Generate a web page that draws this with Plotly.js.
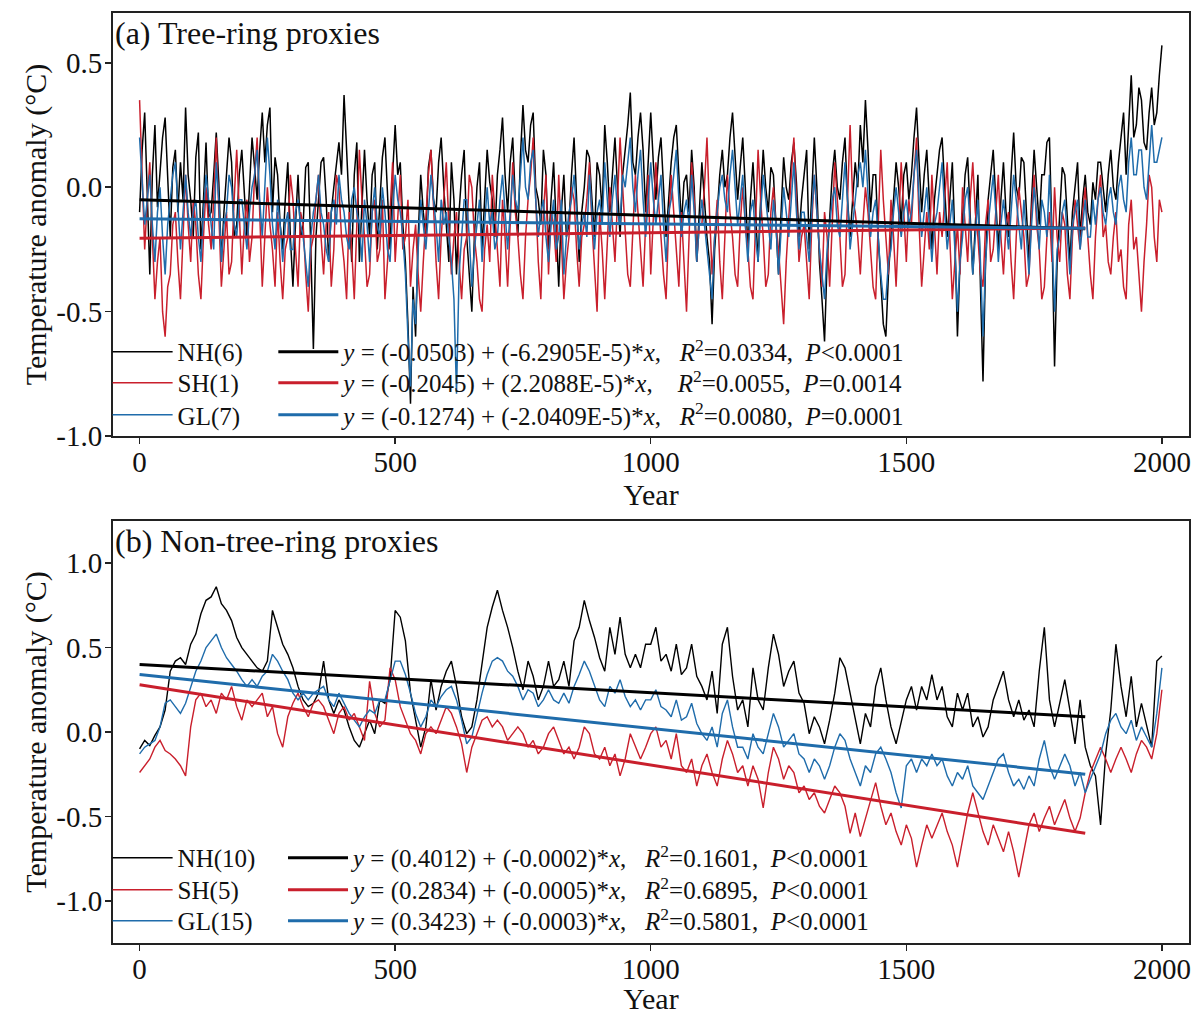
<!DOCTYPE html>
<html>
<head>
<meta charset="utf-8">
<script src="https://cdn.plot.ly/plotly-3.0.1.min.js"></script>
<style>html,body{margin:0;padding:0;background:#fff;}#chart{width:1203px;height:1015px;}</style>
</head>
<body>
<div id="chart"></div>
<script>
// ---------- data ----------
// (a) tree-ring proxies: 5-year steps
const YEARS_A = [
0,5,10,15,20,25,30,35,40,45,50,55,60,65,70,75,80,85,90,95,
100,105,110,115,120,125,130,135,140,145,150,155,160,165,170,175,180,185,190,195,
200,205,210,215,220,225,230,235,240,245,250,255,260,265,270,275,280,285,290,295,
300,305,310,315,320,325,330,335,340,345,350,355,360,365,370,375,380,385,390,395,
400,405,410,415,420,425,430,435,440,445,450,455,460,465,470,475,480,485,490,495,
500,505,510,515,520,525,530,535,540,545,550,555,560,565,570,575,580,585,590,595,
600,605,610,615,620,625,630,635,640,645,650,655,660,665,670,675,680,685,690,695,
700,705,710,715,720,725,730,735,740,745,750,755,760,765,770,775,780,785,790,795,
800,805,810,815,820,825,830,835,840,845,850,855,860,865,870,875,880,885,890,895,
900,905,910,915,920,925,930,935,940,945,950,955,960,965,970,975,980,985,990,995,
1000,1005,1010,1015,1020,1025,1030,1035,1040,1045,1050,1055,1060,1065,1070,1075,1080,1085,1090,1095,
1100,1105,1110,1115,1120,1125,1130,1135,1140,1145,1150,1155,1160,1165,1170,1175,1180,1185,1190,1195,
1200,1205,1210,1215,1220,1225,1230,1235,1240,1245,1250,1255,1260,1265,1270,1275,1280,1285,1290,1295,
1300,1305,1310,1315,1320,1325,1330,1335,1340,1345,1350,1355,1360,1365,1370,1375,1380,1385,1390,1395,
1400,1405,1410,1415,1420,1425,1430,1435,1440,1445,1450,1455,1460,1465,1470,1475,1480,1485,1490,1495,
1500,1505,1510,1515,1520,1525,1530,1535,1540,1545,1550,1555,1560,1565,1570,1575,1580,1585,1590,1595,
1600,1605,1610,1615,1620,1625,1630,1635,1640,1645,1650,1655,1660,1665,1670,1675,1680,1685,1690,1695,
1700,1705,1710,1715,1720,1725,1730,1735,1740,1745,1750,1755,1760,1765,1770,1775,1780,1785,1790,1795,
1800,1805,1810,1815,1820,1825,1830,1835,1840,1845,1850,1855,1860,1865,1870,1875,1880,1885,1890,1895,
1900,1905,1910,1915,1920,1925,1930,1935,1940,1945,1950,1955,1960,1965,1970,1975,1980,1985,1990,1995,
2000];

const NH_TREE = [
-0.10,0.15,0.30,-0.05,-0.35,0.05,0.25,-0.08,0.05,0.20,0.28,0.00,-0.20,0.08,0.15,-0.10,0.10,-0.05,0.32,0.05,
-0.05,-0.20,0.12,0.22,-0.25,-0.05,0.18,-0.12,-0.10,0.05,0.22,0.02,-0.30,-0.10,0.05,0.20,0.10,-0.20,-0.15,0.05,
0.15,-0.05,-0.20,0.00,0.20,0.08,-0.05,0.15,0.30,0.10,0.25,0.32,-0.10,0.12,0.05,-0.15,-0.25,-0.05,0.10,-0.20,
-0.40,-0.15,0.05,-0.20,-0.15,0.08,0.10,-0.25,-0.65,-0.20,-0.05,0.10,0.12,-0.05,-0.30,-0.10,0.00,0.08,0.18,0.05,
0.37,0.15,-0.10,-0.30,0.05,0.18,-0.30,-0.10,0.15,-0.05,-0.20,0.05,0.10,-0.25,-0.05,0.12,0.20,0.00,-0.25,0.05,
0.25,0.05,0.10,-0.15,-0.30,-0.55,-0.87,-0.40,-0.60,-0.20,0.05,-0.10,-0.20,0.08,0.15,-0.05,-0.10,0.10,0.20,0.00,
-0.15,-0.30,0.10,-0.05,-0.35,-0.10,0.05,0.15,-0.20,-0.35,-0.50,-0.20,0.00,0.10,-0.25,-0.05,0.15,0.02,-0.05,-0.20,
0.05,0.15,0.28,0.05,-0.10,0.10,0.20,-0.05,-0.20,0.12,0.33,0.15,0.10,0.25,0.30,0.00,-0.05,-0.15,0.15,0.05,
-0.25,-0.05,0.10,-0.15,-0.40,-0.10,0.05,-0.20,-0.15,0.05,0.20,-0.05,-0.30,-0.10,0.00,0.15,0.12,-0.05,-0.20,0.10,
0.05,-0.10,0.25,0.10,-0.10,0.05,0.20,0.00,-0.20,0.05,0.15,0.25,0.38,0.10,0.05,0.20,0.30,0.15,-0.10,0.10,
0.30,0.10,-0.05,0.12,0.20,0.00,-0.20,-0.05,0.10,0.20,0.25,0.05,-0.15,0.02,0.05,-0.10,0.15,0.00,-0.30,-0.10,
0.10,-0.05,-0.20,-0.30,-0.55,-0.25,-0.10,0.05,0.15,0.00,0.05,0.20,0.30,0.10,-0.05,0.08,0.20,0.00,-0.25,-0.05,
0.10,-0.10,-0.30,-0.05,0.15,0.00,-0.10,0.08,0.05,-0.15,-0.35,-0.10,0.12,0.00,-0.05,0.10,0.18,0.02,-0.20,-0.05,
0.05,0.15,-0.25,-0.05,0.20,0.00,-0.30,-0.45,-0.62,-0.30,-0.10,0.05,0.15,0.00,-0.05,0.10,0.20,-0.05,-0.20,-0.05,
0.10,0.00,0.25,0.10,0.35,0.15,-0.10,0.05,0.05,-0.20,-0.40,-0.55,-0.60,-0.35,-0.20,-0.05,0.10,0.00,-0.15,0.05,
0.10,-0.05,0.05,0.20,0.32,0.10,-0.10,0.05,0.15,-0.05,-0.25,-0.05,0.05,0.15,0.20,0.00,-0.20,-0.05,0.10,-0.20,
-0.60,-0.30,-0.10,0.05,0.12,-0.10,-0.35,-0.15,0.05,-0.40,-0.78,-0.30,-0.05,0.05,0.15,-0.05,-0.25,-0.05,0.10,-0.10,
-0.20,0.05,0.22,0.00,-0.05,0.12,0.10,-0.10,-0.30,-0.05,0.15,0.00,-0.15,0.05,0.05,0.18,0.20,-0.20,-0.72,-0.30,
-0.10,0.08,0.05,-0.15,-0.30,-0.10,0.00,0.10,-0.20,-0.05,0.05,-0.10,-0.15,0.02,-0.05,0.10,0.10,0.00,-0.10,0.05,
0.15,0.00,-0.05,0.10,0.20,0.30,0.05,0.25,0.45,0.20,0.25,0.40,0.35,0.18,0.15,0.30,0.40,0.25,0.30,0.45,
0.57];
const SH_TREE = [
0.35,0.05,-0.25,-0.05,0.10,-0.20,-0.45,-0.30,-0.20,-0.50,-0.60,-0.40,-0.35,-0.15,-0.10,-0.30,-0.45,-0.20,0.05,-0.15,
-0.30,-0.05,-0.15,-0.35,-0.45,-0.20,0.00,-0.15,-0.25,-0.05,0.20,-0.10,-0.40,-0.25,-0.10,-0.35,-0.30,-0.05,0.15,-0.10,
-0.35,-0.15,-0.05,-0.30,-0.20,0.05,0.20,-0.10,-0.40,-0.20,0.00,-0.15,-0.25,-0.40,-0.10,-0.30,-0.45,-0.25,-0.20,0.05,
-0.05,-0.25,-0.40,-0.10,-0.15,-0.35,-0.50,-0.25,-0.20,-0.05,0.05,-0.20,-0.35,-0.15,-0.10,-0.40,-0.25,0.05,0.00,-0.20,
-0.30,-0.45,-0.10,-0.25,-0.45,-0.15,0.15,-0.05,-0.20,-0.40,-0.35,-0.10,-0.05,-0.30,-0.25,-0.05,-0.45,-0.30,-0.10,0.10,
-0.30,-0.10,0.05,-0.25,-0.20,-0.05,-0.40,-0.25,-0.15,-0.35,-0.50,-0.30,-0.10,0.05,0.15,-0.10,-0.30,-0.45,-0.20,-0.05,
0.10,-0.15,-0.35,-0.20,-0.10,-0.30,-0.45,-0.25,-0.20,0.05,0.00,-0.20,-0.30,-0.45,-0.50,-0.25,-0.15,-0.30,0.05,-0.10,
-0.25,-0.40,-0.05,-0.20,-0.40,-0.15,0.10,-0.10,-0.20,-0.35,-0.45,-0.20,-0.05,0.05,0.20,-0.05,-0.30,-0.45,-0.10,0.05,
-0.35,-0.10,-0.15,-0.30,0.05,-0.20,-0.45,-0.30,-0.20,0.00,-0.05,-0.25,-0.40,-0.20,-0.15,-0.05,0.10,-0.15,-0.35,-0.50,
-0.10,-0.25,-0.45,-0.20,0.00,-0.15,-0.30,-0.05,0.20,0.00,-0.20,-0.35,-0.40,-0.15,0.05,-0.10,-0.25,-0.40,-0.15,0.05,
-0.35,-0.10,0.10,-0.05,-0.20,-0.35,-0.45,-0.15,0.05,-0.10,-0.25,-0.40,-0.10,-0.30,-0.50,-0.20,0.10,-0.05,-0.30,-0.15,
-0.15,0.00,0.20,-0.10,-0.35,-0.20,-0.05,-0.30,-0.45,-0.20,0.05,-0.10,-0.20,-0.35,-0.40,-0.15,0.00,-0.15,-0.25,-0.40,
-0.45,-0.15,0.15,-0.05,-0.20,-0.40,-0.35,-0.10,0.00,-0.15,-0.25,-0.40,-0.55,-0.30,-0.10,0.05,0.20,-0.05,-0.30,-0.20,
-0.15,-0.30,-0.45,-0.15,0.05,-0.10,-0.25,-0.40,-0.10,-0.20,-0.40,-0.15,0.10,-0.05,-0.20,-0.40,-0.35,-0.05,0.25,-0.05,
-0.10,-0.20,-0.35,-0.15,0.00,-0.10,-0.25,-0.40,-0.45,-0.10,0.15,-0.05,-0.20,-0.35,-0.05,-0.20,-0.40,-0.15,0.10,-0.10,
-0.30,-0.05,-0.15,0.05,0.20,-0.15,-0.40,-0.25,-0.10,-0.25,0.05,-0.15,-0.35,-0.10,-0.20,-0.05,0.10,-0.20,-0.45,-0.30,
-0.15,-0.35,0.00,-0.15,-0.30,-0.05,0.10,-0.10,-0.20,-0.35,-0.40,-0.15,-0.05,-0.30,-0.25,-0.10,0.05,-0.20,-0.35,-0.15,
-0.10,-0.30,-0.45,-0.20,0.00,-0.10,-0.20,-0.40,-0.35,-0.10,0.05,-0.15,-0.25,-0.45,-0.40,-0.20,-0.10,-0.30,0.00,-0.20,
-0.30,-0.10,-0.15,-0.35,-0.45,-0.20,-0.05,-0.15,-0.25,-0.10,0.00,-0.20,-0.35,-0.45,-0.20,-0.05,0.05,-0.20,-0.15,-0.30,
-0.35,-0.20,-0.10,-0.30,-0.25,-0.40,-0.45,-0.15,-0.05,-0.25,-0.20,-0.35,-0.50,-0.30,-0.15,0.05,0.00,-0.20,-0.30,-0.05,
-0.10];
const GL_TREE = [
0.20,0.00,-0.15,-0.05,0.05,-0.15,-0.30,-0.10,0.00,-0.20,-0.35,-0.15,-0.05,0.05,0.10,-0.10,-0.25,-0.10,0.05,-0.10,
-0.20,-0.10,-0.05,-0.20,-0.30,-0.10,0.05,-0.05,-0.15,-0.25,0.10,-0.05,-0.30,-0.15,-0.10,0.05,0.00,-0.15,-0.20,-0.05,
-0.05,-0.15,-0.25,-0.10,0.00,0.05,0.15,-0.05,-0.20,0.00,0.20,0.05,-0.15,-0.25,-0.05,-0.15,-0.30,-0.15,-0.10,-0.25,
-0.25,-0.10,-0.05,-0.15,-0.20,-0.30,-0.40,-0.20,-0.10,-0.05,0.05,-0.10,-0.15,-0.25,-0.30,-0.10,-0.05,-0.15,0.05,-0.05,
-0.10,-0.20,-0.25,-0.05,0.00,-0.10,-0.15,-0.30,-0.05,-0.15,-0.30,-0.10,0.00,-0.15,-0.20,0.00,-0.10,-0.25,-0.30,-0.10,
0.05,-0.05,-0.10,-0.20,-0.35,-0.60,-0.80,-0.45,-0.55,-0.25,-0.05,-0.15,-0.25,-0.10,0.05,-0.05,-0.15,-0.30,-0.05,-0.15,
-0.10,-0.20,-0.30,-0.45,-0.83,-0.35,-0.20,-0.05,-0.05,-0.20,-0.40,-0.25,-0.15,-0.05,-0.30,-0.15,0.00,-0.15,-0.10,-0.25,
-0.20,-0.05,0.05,-0.10,-0.25,-0.10,0.05,-0.05,-0.10,0.05,0.20,0.00,-0.05,0.10,0.15,-0.05,-0.20,-0.10,-0.05,-0.20,
-0.30,-0.15,-0.05,-0.25,-0.20,-0.05,-0.35,-0.20,-0.10,-0.05,0.05,-0.10,-0.25,-0.15,-0.10,-0.20,0.05,-0.10,-0.25,-0.10,
-0.05,-0.15,0.10,-0.05,-0.20,-0.05,0.05,-0.10,-0.15,0.05,0.00,0.10,0.20,0.00,-0.10,0.05,0.15,-0.05,-0.20,-0.05,
0.10,-0.05,-0.15,-0.05,0.05,-0.15,-0.30,-0.10,-0.05,0.05,0.15,-0.05,-0.20,-0.10,-0.05,-0.15,0.05,-0.10,-0.30,-0.15,
-0.05,-0.15,-0.25,-0.35,-0.45,-0.20,-0.10,0.00,0.05,-0.05,-0.10,0.05,0.15,0.00,-0.15,-0.05,0.05,-0.15,-0.30,-0.10,
-0.05,-0.20,-0.30,-0.10,0.05,-0.05,-0.15,-0.25,-0.05,-0.15,-0.35,-0.15,0.00,-0.10,-0.20,-0.05,0.10,-0.10,-0.25,-0.10,
-0.10,-0.20,-0.30,-0.10,0.05,-0.10,-0.25,-0.35,-0.45,-0.25,-0.15,-0.05,0.00,-0.15,-0.20,-0.05,0.10,-0.05,-0.25,-0.15,
-0.05,0.05,0.10,0.00,0.15,-0.05,-0.20,-0.10,-0.05,-0.20,-0.35,-0.45,-0.45,-0.30,-0.25,-0.10,0.00,-0.10,-0.20,-0.10,
-0.05,-0.15,-0.10,0.05,0.15,-0.05,-0.20,-0.10,0.00,-0.15,-0.30,-0.15,-0.10,0.00,0.10,-0.10,-0.25,-0.15,-0.05,-0.25,
-0.50,-0.30,-0.20,-0.05,0.00,-0.15,-0.35,-0.20,-0.05,-0.30,-0.60,-0.30,-0.15,-0.05,0.05,-0.10,-0.30,-0.15,-0.05,-0.15,
-0.25,-0.10,0.05,-0.05,-0.15,-0.25,-0.05,-0.20,-0.35,-0.15,0.00,-0.10,-0.25,-0.05,-0.10,-0.20,0.05,-0.20,-0.50,-0.25,
-0.20,-0.10,-0.05,-0.20,-0.35,-0.15,-0.10,-0.05,-0.25,-0.15,-0.05,-0.20,-0.20,-0.05,-0.15,-0.05,0.00,-0.10,-0.15,-0.05,
0.00,-0.10,-0.15,0.00,0.05,-0.05,-0.10,0.10,0.20,0.05,0.05,0.15,0.15,0.00,-0.05,0.10,0.25,0.10,0.10,0.15,
0.20];

// (b) non-tree-ring proxies: 10-year steps
const YEARS_B = [0,10,20,30,40,50,60,70,80,90,100,110,120,130,140,150,160,170,180,190,
200,210,220,230,240,250,260,270,280,290,300,310,320,330,340,350,360,370,380,390,
400,410,420,430,440,450,460,470,480,490,500,510,520,530,540,550,560,570,580,590,
600,610,620,630,640,650,660,670,680,690,700,710,720,730,740,750,760,770,780,790,
800,810,820,830,840,850,860,870,880,890,900,910,920,930,940,950,960,970,980,990,
1000,1010,1020,1030,1040,1050,1060,1070,1080,1090,1100,1110,1120,1130,1140,1150,1160,1170,1180,1190,
1200,1210,1220,1230,1240,1250,1260,1270,1280,1290,1300,1310,1320,1330,1340,1350,1360,1370,1380,1390,
1400,1410,1420,1430,1440,1450,1460,1470,1480,1490,1500,1510,1520,1530,1540,1550,1560,1570,1580,1590,
1600,1610,1620,1630,1640,1650,1660,1670,1680,1690,1700,1710,1720,1730,1740,1750,1760,1770,1780,1790,
1800,1810,1820,1830,1840,1850,1860,1870,1880,1890,1900,1910,1920,1930,1940,1950,1960,1970,1980,1990,
2000];
const NH_NONTREE = [
-0.10,-0.05,-0.08,-0.02,0.03,0.13,0.36,0.42,0.44,0.40,
0.52,0.58,0.70,0.78,0.80,0.86,0.76,0.72,0.66,0.56,
0.50,0.46,0.42,0.38,0.36,0.42,0.72,0.62,0.52,0.46,
0.38,0.27,0.19,0.15,0.17,0.23,0.42,0.19,0.11,0.19,
0.13,0.03,-0.05,-0.09,-0.01,0.07,-0.01,0.19,0.17,0.31,
0.72,0.68,0.54,0.23,0.07,-0.09,0.03,0.31,0.13,0.27,
0.36,0.42,0.27,0.09,-0.01,0.03,0.19,0.42,0.62,0.74,
0.84,0.72,0.62,0.50,0.36,0.25,0.42,0.33,0.19,0.27,
0.42,0.27,0.31,0.42,0.27,0.54,0.62,0.78,0.66,0.56,
0.44,0.36,0.62,0.46,0.68,0.46,0.38,0.46,0.38,0.52,
0.52,0.62,0.42,0.46,0.36,0.52,0.34,0.38,0.52,0.33,
0.27,0.19,0.36,0.11,0.52,0.62,0.33,0.13,0.19,0.03,
0.38,0.19,0.13,0.38,0.58,0.46,0.27,0.36,0.42,0.23,
0.17,-0.01,0.09,0.03,-0.07,0.07,0.23,0.44,0.38,0.23,
0.07,-0.07,0.11,0.03,0.27,0.38,0.19,0.03,-0.07,0.07,
0.19,0.27,0.13,0.27,0.19,0.34,0.19,0.27,0.09,0.03,
0.23,0.13,0.23,0.03,0.09,-0.03,0.03,0.19,0.27,0.36,
0.19,0.09,0.19,0.07,0.13,0.03,0.36,0.62,0.19,0.03,
0.17,0.31,0.13,-0.07,0.19,-0.09,-0.20,-0.26,-0.55,-0.13,
0.13,0.52,0.27,0.09,0.33,0.03,0.17,0.03,-0.09,0.42,
0.45];
const SH_NONTREE = [
-0.24,-0.20,-0.16,-0.09,-0.05,-0.11,-0.13,-0.16,-0.20,-0.26,
0.03,0.19,0.23,0.15,0.19,0.11,0.23,0.19,0.27,0.15,
0.07,0.19,0.15,0.19,0.23,0.09,0.15,-0.01,-0.09,0.09,
0.17,0.23,0.15,0.09,0.17,0.19,0.15,0.07,-0.01,0.11,
0.15,0.07,0.11,0.03,-0.05,0.30,0.11,0.03,0.07,0.38,
0.31,0.15,0.07,-0.01,-0.05,-0.13,-0.01,0.03,-0.01,0.07,
0.15,0.11,0.03,-0.07,-0.24,-0.09,-0.01,0.07,0.09,0.03,
0.07,0.03,-0.05,-0.01,0.03,-0.01,-0.09,-0.05,-0.13,-0.09,
-0.01,0.03,-0.05,-0.13,-0.09,-0.16,-0.09,0.03,-0.01,-0.13,
-0.16,-0.09,-0.20,-0.13,-0.26,-0.16,-0.01,-0.09,-0.16,-0.09,
-0.01,0.03,-0.09,-0.05,-0.16,-0.01,-0.20,-0.24,-0.16,-0.32,
-0.20,-0.13,-0.24,-0.32,-0.16,-0.05,-0.13,-0.24,-0.20,-0.32,
-0.20,-0.28,-0.45,-0.24,-0.09,-0.16,-0.28,-0.20,-0.24,-0.36,
-0.32,-0.40,-0.36,-0.44,-0.48,-0.40,-0.32,-0.36,-0.44,-0.60,
-0.48,-0.62,-0.51,-0.40,-0.30,-0.44,-0.55,-0.48,-0.59,-0.67,
-0.55,-0.63,-0.80,-0.67,-0.55,-0.63,-0.55,-0.48,-0.59,-0.67,
-0.80,-0.63,-0.48,-0.36,-0.48,-0.59,-0.67,-0.55,-0.63,-0.71,
-0.59,-0.71,-0.86,-0.71,-0.55,-0.48,-0.59,-0.51,-0.44,-0.55,
-0.48,-0.40,-0.51,-0.59,-0.51,-0.36,-0.24,-0.16,-0.09,-0.16,
-0.24,-0.16,-0.09,-0.16,-0.24,-0.13,-0.05,-0.09,-0.16,-0.01,
0.25];
const GL_NONTREE = [
-0.13,-0.09,-0.07,-0.05,0.03,0.17,0.19,0.15,0.11,0.17,
0.27,0.36,0.42,0.50,0.54,0.58,0.50,0.44,0.40,0.36,
0.31,0.27,0.31,0.27,0.33,0.36,0.46,0.42,0.36,0.31,
0.23,0.19,0.23,0.19,0.23,0.25,0.27,0.19,0.15,0.23,
0.17,0.11,0.07,0.03,0.09,0.13,0.11,0.19,0.19,0.31,
0.42,0.42,0.34,0.23,0.11,0.03,0.09,0.19,0.15,0.21,
0.25,0.27,0.19,0.07,-0.07,-0.03,0.11,0.23,0.34,0.42,
0.44,0.42,0.36,0.33,0.27,0.19,0.25,0.23,0.15,0.19,
0.25,0.19,0.17,0.23,0.17,0.27,0.34,0.42,0.36,0.27,
0.19,0.15,0.27,0.23,0.31,0.21,0.15,0.19,0.13,0.19,
0.19,0.25,0.15,0.13,0.09,0.19,0.07,0.09,0.17,0.05,
-0.01,-0.05,0.03,-0.09,0.11,0.19,0.03,-0.09,-0.09,-0.16,
-0.01,-0.09,-0.13,-0.01,0.11,0.03,-0.09,-0.05,-0.01,-0.13,
-0.16,-0.24,-0.16,-0.20,-0.28,-0.20,-0.09,-0.01,-0.05,-0.16,
-0.24,-0.32,-0.20,-0.24,-0.13,-0.09,-0.16,-0.24,-0.36,-0.45,
-0.20,-0.16,-0.24,-0.16,-0.20,-0.13,-0.20,-0.16,-0.26,-0.32,
-0.24,-0.28,-0.20,-0.32,-0.36,-0.40,-0.32,-0.24,-0.16,-0.13,
-0.24,-0.32,-0.28,-0.34,-0.26,-0.32,-0.16,-0.05,-0.20,-0.28,
-0.20,-0.13,-0.20,-0.32,-0.24,-0.36,-0.28,-0.20,-0.13,-0.01,
0.07,0.11,0.03,-0.01,0.07,-0.05,0.03,-0.03,-0.09,0.11,
0.38];

// linear fits: end points
const FIT_YEARS = [0, 1850];
const NH_TREE_FIT = [-0.050, -0.167];
const SH_TREE_FIT = [-0.2045, -0.164];
const GL_TREE_FIT = [-0.127, -0.165];
const NH_NONTREE_FIT = [0.40, 0.09];
const SH_NONTREE_FIT = [0.28, -0.60];
const GL_NONTREE_FIT = [0.34, -0.25];

// labels
const NAMES_TREE = ['NH(6)', 'SH(1)', 'GL(7)'];
const NAMES_NONTREE = ['NH(10)', 'SH(5)', 'GL(15)'];
const S = '\u00A0';
const EQ_TREE = [
  '<i>y</i>' + S + '=' + S + '(-0.0503)' + S + '+' + S + '(-6.2905E-5)*<i>x</i>,' + S+S+S + '<i>R</i><sup>2</sup>=0.0334,' + S+S + '<i>P</i>&lt;0.0001',
  '<i>y</i>' + S + '=' + S + '(-0.2045)' + S + '+' + S + '(2.2088E-5)*<i>x</i>,' + S+S+S+S + '<i>R</i><sup>2</sup>=0.0055,' + S+S + '<i>P</i>=0.0014',
  '<i>y</i>' + S + '=' + S + '(-0.1274)' + S + '+' + S + '(-2.0409E-5)*<i>x</i>,' + S+S+S + '<i>R</i><sup>2</sup>=0.0080,' + S+S + '<i>P</i>=0.0001'
];
const EQ_NONTREE = [
  '<i>y</i>' + S + '=' + S + '(0.4012)' + S + '+' + S + '(-0.0002)*<i>x</i>,' + S+S+S + '<i>R</i><sup>2</sup>=0.1601,' + S+S + '<i>P</i>&lt;0.0001',
  '<i>y</i>' + S + '=' + S + '(0.2834)' + S + '+' + S + '(-0.0005)*<i>x</i>,' + S+S+S + '<i>R</i><sup>2</sup>=0.6895,' + S+S + '<i>P</i>&lt;0.0001',
  '<i>y</i>' + S + '=' + S + '(0.3423)' + S + '+' + S + '(-0.0003)*<i>x</i>,' + S+S+S + '<i>R</i><sup>2</sup>=0.5801,' + S+S + '<i>P</i>&lt;0.0001'
];
const PANEL_TITLES = ['(a) Tree-ring proxies', '(b) Non-tree-ring proxies'];
const X_TICKS = [0, 500, 1000, 1500, 2000];
const Y_TICKS_A = [-1.0, -0.5, 0.0, 0.5];
const Y_TICKTEXT_A = ['-1.0', '-0.5', '0.0', '0.5'];
const Y_TICKS_B = [-1.0, -0.5, 0.0, 0.5, 1.0];
const Y_TICKTEXT_B = ['-1.0', '-0.5', '0.0', '0.5', '1.0'];

// ---------- styling ----------
const FONT = '"Liberation Serif", "Times New Roman", "DejaVu Serif", serif';
const C_BLACK = '#000000';
const C_RED = '#c91f2c';
const C_BLUE = '#1f6cab';

function dataTrace(xs, y, name, color, xa, ya, legend, w) {
  return {x: xs, y: y, name: name, type: 'scatter', mode: 'lines',
    line: {color: color, width: w}, xaxis: xa, yaxis: ya, legend: legend, hoverinfo: 'skip'};
}
function fitTrace(y, name, color, xa, ya, legend) {
  return {x: FIT_YEARS, y: y, name: name, type: 'scatter', mode: 'lines',
    line: {color: color, width: 3}, xaxis: xa, yaxis: ya, legend: legend, hoverinfo: 'skip'};
}

const traces = [
  dataTrace(YEARS_A, NH_TREE, NAMES_TREE[0], C_BLACK, 'x', 'y', 'legend', 1.5),
  dataTrace(YEARS_A, SH_TREE, NAMES_TREE[1], C_RED, 'x', 'y', 'legend2', 1.5),
  dataTrace(YEARS_A, GL_TREE, NAMES_TREE[2], C_BLUE, 'x', 'y', 'legend3', 1.5),
  fitTrace(NH_TREE_FIT, EQ_TREE[0], C_BLACK, 'x', 'y', 'legend4'),
  fitTrace(SH_TREE_FIT, EQ_TREE[1], C_RED, 'x', 'y', 'legend5'),
  fitTrace(GL_TREE_FIT, EQ_TREE[2], C_BLUE, 'x', 'y', 'legend6'),
  dataTrace(YEARS_B, NH_NONTREE, NAMES_NONTREE[0], C_BLACK, 'x2', 'y2', 'legend7', 1.4),
  dataTrace(YEARS_B, SH_NONTREE, NAMES_NONTREE[1], C_RED, 'x2', 'y2', 'legend8', 1.4),
  dataTrace(YEARS_B, GL_NONTREE, NAMES_NONTREE[2], C_BLUE, 'x2', 'y2', 'legend9', 1.4),
  fitTrace(NH_NONTREE_FIT, EQ_NONTREE[0], C_BLACK, 'x2', 'y2', 'legend10'),
  fitTrace(SH_NONTREE_FIT, EQ_NONTREE[1], C_RED, 'x2', 'y2', 'legend11'),
  fitTrace(GL_NONTREE_FIT, EQ_NONTREE[2], C_BLUE, 'x2', 'y2', 'legend12')
];

function xAxis(anchor, standoff) {
  return {anchor: anchor, domain: [0, 1], range: [-52, 2053], tickvals: X_TICKS,
    ticks: 'outside', ticklen: 6, tickwidth: 1.5, tickcolor: '#222', ticklabelstandoff: -7,
    showline: true, linewidth: 2, linecolor: '#222', mirror: true,
    showgrid: false, zeroline: false, tickfont: {size: 29},
    title: {text: 'Year', font: {size: 30}, standoff: standoff}};
}
function yAxis(anchor, domain, range, vals, text) {
  return {anchor: anchor, domain: domain, range: range, tickvals: vals, ticktext: text,
    ticks: 'outside', ticklen: 6, tickwidth: 1.5, tickcolor: '#222', ticklabelstandoff: -3,
    showline: true, linewidth: 2, linecolor: '#222', mirror: true,
    showgrid: false, zeroline: false, tickfont: {size: 29},
    title: {text: 'Temperature anomaly (°C)', font: {size: 30}, standoff: 1}};
}
function legendBox(x, y) {
  return {x: x, y: y, xanchor: 'left', yanchor: 'middle', orientation: 'v',
    bgcolor: 'rgba(0,0,0,0)', borderwidth: 0, itemwidth: 60,
    font: {family: FONT, size: 25, color: '#111'}};
}

const COL1 = -0.005, COL2A = 0.149, COL2B = 0.158;
const ROWS_A = [0.6355, 0.6022, 0.5677];
const ROWS_B = [0.0914, 0.0570, 0.0237];

const layout = {
  width: 1203, height: 1015,
  margin: {l: 113, r: 14, t: 13, b: 72},
  paper_bgcolor: '#ffffff', plot_bgcolor: '#ffffff',
  font: {family: FONT, color: '#111', size: 29},
  showlegend: true,
  xaxis: xAxis('y', 2),
  yaxis: yAxis('x', [0.545, 1], [-1.0, 0.7], Y_TICKS_A, Y_TICKTEXT_A),
  xaxis2: xAxis('y2', 16),
  yaxis2: yAxis('x2', [0, 0.4538], [-1.25, 1.25], Y_TICKS_B, Y_TICKTEXT_B),
  legend: legendBox(COL1, ROWS_A[0]),
  legend2: legendBox(COL1, ROWS_A[1]),
  legend3: legendBox(COL1, ROWS_A[2]),
  legend4: legendBox(COL2A, ROWS_A[0]),
  legend5: legendBox(COL2A, ROWS_A[1]),
  legend6: legendBox(COL2A, ROWS_A[2]),
  legend7: legendBox(COL1, ROWS_B[0]),
  legend8: legendBox(COL1, ROWS_B[1]),
  legend9: legendBox(COL1, ROWS_B[2]),
  legend10: legendBox(COL2B, ROWS_B[0]),
  legend11: legendBox(COL2B, ROWS_B[1]),
  legend12: legendBox(COL2B, ROWS_B[2]),
  annotations: [
    {text: PANEL_TITLES[0], xref: 'x domain', yref: 'y domain', x: 0, y: 1,
     xanchor: 'left', yanchor: 'top', showarrow: false, font: {size: 32, color: '#111'}},
    {text: PANEL_TITLES[1], xref: 'x2 domain', yref: 'y2 domain', x: 0, y: 1,
     xanchor: 'left', yanchor: 'top', showarrow: false, font: {size: 32, color: '#111'}}
  ]
};

Plotly.newPlot('chart', traces, layout, {displayModeBar: false, staticPlot: true});
</script>
</body>
</html>
